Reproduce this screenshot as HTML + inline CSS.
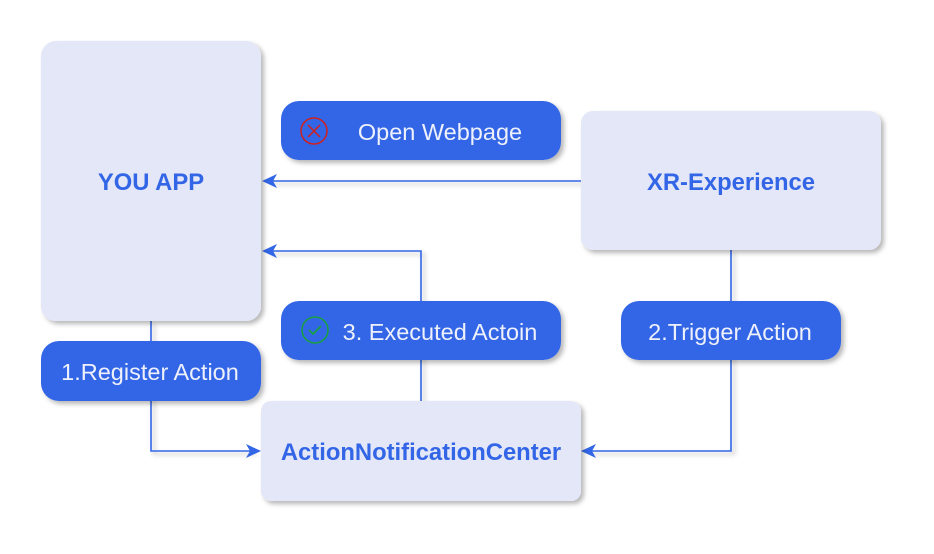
<!DOCTYPE html>
<html><head><meta charset="utf-8"><style>
html,body{margin:0;padding:0;background:#fff;}
svg{display:block;}
text{font-family:"Liberation Sans",sans-serif;}
</style></head><body>
<svg width="934" height="554" viewBox="0 0 934 554" xmlns="http://www.w3.org/2000/svg">
<defs>
<filter id="sh" x="-20%" y="-20%" width="150%" height="150%">
<feDropShadow dx="3" dy="3" stdDeviation="2.5" flood-color="#000" flood-opacity="0.28"/>
</filter>
</defs>
<g fill="none" stroke="#3366e6" stroke-width="1.6" filter="url(#sh)">
<path d="M581 181 H268"/>
<path d="M421 401 V251 H268"/>
<path d="M151 321 V451 H254"/>
<path d="M731 250 V451 H588"/>
</g>
<g fill="#3366e6">
<path d="M262 181 L277 174 L273 181 L277 188 Z"/>
<path d="M262 251 L277 244 L273 251 L277 258 Z"/>
<path d="M261 451 L246 444 L250 451 L246 458 Z"/>
<path d="M581 451 L596 444 L592 451 L596 458 Z"/>
</g>
<g filter="url(#sh)">
<rect x="41" y="41" width="220" height="280" rx="15" fill="#e3e7f8"/>
<rect x="581" y="111" width="300" height="139" rx="12" fill="#e3e7f8"/>
<rect x="261" y="401" width="320" height="100" rx="10" fill="#e3e7f8"/>
<rect x="281" y="101" width="280" height="59" rx="18" fill="#3366e6"/>
<rect x="281" y="301" width="280" height="59" rx="18" fill="#3366e6"/>
<rect x="41" y="341" width="220" height="60" rx="18" fill="#3366e6"/>
<rect x="621" y="301" width="220" height="59" rx="18" fill="#3366e6"/>
</g>
<g font-weight="bold" font-size="23.8" fill="#3366e6" text-anchor="middle">
<text x="151" y="190">YOU APP</text>
<text x="731" y="190">XR-Experience</text>
<text x="421" y="460">ActionNotificationCenter</text>
</g>
<g font-size="23.5" fill="#eef0fb" text-anchor="middle">
<text x="440" y="140">Open Webpage</text>
<text x="440" y="340">3. Executed Actoin</text>
<text x="150" y="380">1.Register Action</text>
<text x="730" y="340">2.Trigger Action</text>
</g>
<circle cx="314" cy="131" r="13" fill="none" stroke="#d02020" stroke-width="1.5"/>
<path d="M308 125 L320 137 M320 125 L308 137" stroke="#d02020" stroke-width="1.5"/>
<circle cx="315" cy="330" r="13" fill="none" stroke="#1aa040" stroke-width="1.5"/>
<path d="M309 330 L313 334 L321 326" fill="none" stroke="#1aa040" stroke-width="1.8"/>
</svg>
</body></html>
